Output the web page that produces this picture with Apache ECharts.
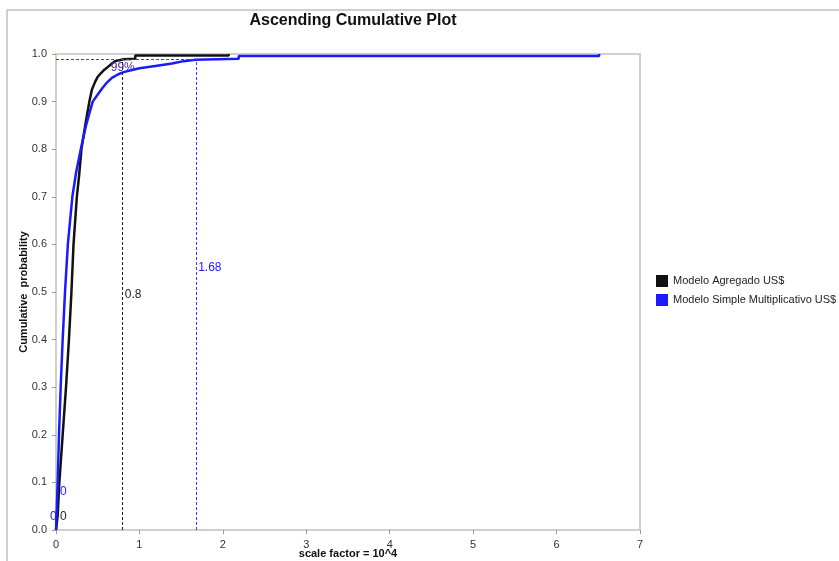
<!DOCTYPE html>
<html>
<head>
<meta charset="utf-8">
<script src="https://cdn.jsdelivr.net/npm/echarts@6/dist/echarts.min.js"></script>
<style>
  html, body { margin: 0; padding: 0; background: #fff; }
  #chart { width: 839px; height: 561px; }
</style>
</head>
<body>
<div id="chart"></div>
<script>
// series names
const seriesNames = ['Modelo Agregado US$', 'Modelo Simple Multiplicativo US$'];

// empirical cumulative curves [x (scale 10^4), probability]
const agregadoData = [
    [0, 0], [0.02, 0.03], [0.04, 0.1], [0.08, 0.2], [0.12, 0.3], [0.155, 0.4],
    [0.185, 0.5], [0.21, 0.6], [0.25, 0.7], [0.28, 0.75], [0.305, 0.8], [0.35, 0.85],
    [0.375, 0.875], [0.40, 0.9], [0.43, 0.925], [0.47, 0.942], [0.50, 0.952],
    [0.54, 0.96], [0.58, 0.967], [0.63, 0.974], [0.67, 0.98], [0.71, 0.985],
    [0.81, 0.989], [0.95, 0.99], [0.95, 0.997], [2.07, 0.997], [2.07, 1.0]
];
const simpleData = [
    [0, 0], [0.01, 0.05], [0.02, 0.1], [0.036, 0.2], [0.056, 0.3], [0.08, 0.4],
    [0.108, 0.5], [0.142, 0.6], [0.196, 0.7], [0.24, 0.75], [0.297, 0.8], [0.36, 0.85],
    [0.40, 0.875], [0.44, 0.9], [0.50, 0.915], [0.55, 0.927], [0.61, 0.94], [0.67, 0.95],
    [0.74, 0.957], [0.81, 0.962], [0.9, 0.966], [1.0, 0.97], [1.19, 0.975],
    [1.39, 0.98], [1.53, 0.985], [1.67, 0.988], [1.68, 0.99], [2.19, 0.99],
    [2.19, 0.996], [6.51, 0.996], [6.51, 1.0]
];

// 99% percentile markers
const pctLevel = 0.99;
const agregadoP99 = 0.8;
const simpleP99 = 1.68;

// axis ticks
const xTicks = [0, 1, 2, 3, 4, 5, 6, 7];
const yTicks = [0, 0.1, 0.2, 0.3, 0.4, 0.5, 0.6, 0.7, 0.8, 0.9, 1.0];

const chart = echarts.init(document.getElementById('chart'));
const font = 'Liberation Sans, Arial, sans-serif';
const black = '#111111';
const blue = '#1a1aff';

function textPoint(coord, text, color, offset, align) {
    return {
        coord: coord,
        symbol: 'circle',
        symbolSize: 1,
        itemStyle: { color: 'rgba(0,0,0,0)' },
        label: {
            show: true,
            formatter: text,
            color: color,
            fontFamily: font,
            fontSize: 12,
            position: 'inside',
            align: align || 'left',
            offset: offset
        }
    };
}

const option = {
    animation: false,
    backgroundColor: '#fff',
    graphic: [{
        type: 'rect',
        shape: { x: 7, y: 10, width: 840, height: 560 },
        style: { fill: 'none', stroke: '#a0a0a0', lineWidth: 1 },
        silent: true
    }],
    title: {
        text: 'Ascending Cumulative Plot',
        left: 348,
        textAlign: 'center',
        top: 8,
        textStyle: { fontFamily: font, fontSize: 16, fontWeight: 'bold', color: '#111' }
    },
    legend: {
        data: seriesNames,
        orient: 'vertical',
        left: 651,
        top: 270,
        itemWidth: 12,
        itemHeight: 12,
        itemGap: 7,
        icon: 'rect',
        textStyle: { fontFamily: font, fontSize: 11, color: '#222' }
    },
    grid: {
        left: 56, right: 199, top: 54, bottom: 31,
        outerBoundsMode: 'none',
        containLabel: false,
        show: true,
        borderColor: '#cfcfcf',
        borderWidth: 2
    },
    xAxis: {
        type: 'value',
        min: xTicks[0],
        max: xTicks[xTicks.length - 1],
        interval: 1,
        name: 'scale factor = 10^4',
        nameLocation: 'middle',
        nameGap: 18,
        nameMoveOverlap: false,
        nameTextStyle: { fontFamily: font, fontSize: 11, fontWeight: 'bold', color: '#111' },
        axisLine: { lineStyle: { color: '#cfcfcf', width: 2 } },
        axisTick: { length: 4, lineStyle: { color: '#999' } },
        axisLabel: { fontFamily: font, fontSize: 11, color: '#333', margin: 9 },
        splitLine: { show: false }
    },
    yAxis: {
        type: 'value',
        min: yTicks[0],
        max: yTicks[yTicks.length - 1],
        interval: 0.1,
        name: 'Cumulative  probability',
        nameLocation: 'middle',
        nameGap: 27,
        nameMoveOverlap: false,
        nameTextStyle: { fontFamily: font, fontSize: 11, fontWeight: 'bold', color: '#111' },
        axisLine: { show: true, lineStyle: { color: '#cfcfcf', width: 2 } },
        axisTick: { show: true, length: 4, lineStyle: { color: '#999' } },
        axisLabel: {
            fontFamily: font, fontSize: 11, color: '#333', margin: 9,
            formatter: v => v.toFixed(1)
        },
        splitLine: { show: false }
    },
    series: [
        {
            name: seriesNames[0],
            type: 'line',
            data: agregadoData,
            showSymbol: false,
            color: black,
            lineStyle: { color: black, width: 2.5 },
            z: 3,
            markLine: {
                silent: true,
                symbol: 'none',
                label: { show: false },
                lineStyle: { color: '#222', type: [3, 2], width: 1 },
                data: [
                    [{ coord: [agregadoP99, 0] }, { coord: [agregadoP99, pctLevel] }],
                    [{ coord: [0, pctLevel] }, { coord: [agregadoP99, pctLevel] }]
                ]
            },
            markPoint: {
                silent: true,
                data: [
                    textPoint([agregadoP99, 0.495], String(agregadoP99), '#222', [2, 0]),
                    textPoint([0, 0.027], '0', '#222', [4, 0]),
                    textPoint([agregadoP99, pctLevel], '99%', '#4a2aa8', [0, 9], 'center')
                ]
            }
        },
        {
            name: seriesNames[1],
            type: 'line',
            data: simpleData,
            showSymbol: false,
            color: blue,
            lineStyle: { color: blue, width: 2.5 },
            z: 4,
            markLine: {
                silent: true,
                symbol: 'none',
                label: { show: false },
                lineStyle: { color: '#3a3aff', type: [3, 2], width: 1 },
                data: [
                    [{ coord: [simpleP99, 0] }, { coord: [simpleP99, pctLevel] }],
                    [{ coord: [0, pctLevel] }, { coord: [simpleP99, pctLevel] }]
                ]
            },
            markPoint: {
                silent: true,
                data: [
                    textPoint([simpleP99, 0.552], String(simpleP99), blue, [2, 0]),
                    textPoint([0, 0.08], '0', blue, [4, 0]),
                    textPoint([0, 0.027], '0', blue, [-6, 0])
                ]
            }
        }
    ]
};

chart.setOption(option);
</script>
</body>
</html>
